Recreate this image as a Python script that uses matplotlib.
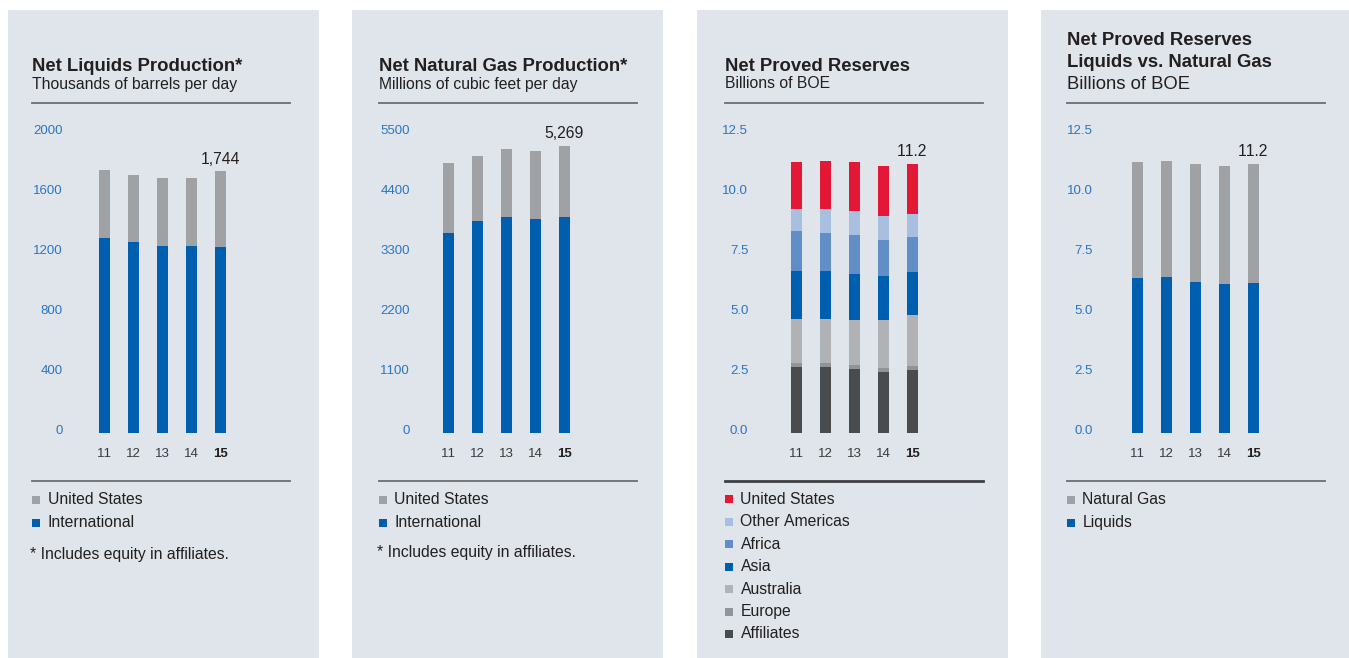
import matplotlib

matplotlib.use("Agg")
import matplotlib.pyplot as plt  # noqa: E402
import matplotlib.transforms as mtransforms  # noqa: E402
from matplotlib.patches import Rectangle  # noqa: E402

plt.rcParams["font.family"] = ["Liberation Sans", "DejaVu Sans"]
# the source ignores pair kerning ("11" is not squeezed together)
plt.rcParams["text.kerning_factor"] = 16

W, H = 1349, 658

years = ["11", "12", "13", "14", "15"]

# Net liquids production, thousands of barrels per day
liquids_us = [454, 446, 453, 453, 501]
liquids_intl = [1302, 1276, 1249, 1249, 1243]

# Net natural gas production, millions of cubic feet per day
gas_us = [1284, 1192, 1246, 1241, 1310]
gas_intl = [3667, 3881, 3955, 3924, 3959]

# Net proved reserves by region, billions of BOE (bottom to top)
res_affiliates = [2.74, 2.74, 2.65, 2.56, 2.64]
res_europe = [0.19, 0.19, 0.20, 0.16, 0.17]
res_australia = [1.83, 1.83, 1.87, 2.00, 2.12]
res_asia = [2.00, 2.00, 1.92, 1.84, 1.79]
res_africa = [1.67, 1.59, 1.62, 1.50, 1.46]
res_other_americas = [0.92, 1.00, 1.00, 1.00, 0.96]
res_us = [1.93, 2.00, 2.02, 2.08, 2.08]

# Net proved reserves, liquids vs. natural gas, billions of BOE
res_liquids = [6.47, 6.51, 6.31, 6.22, 6.26]
res_gas = [4.81, 4.84, 4.91, 4.92, 4.96]

liquids_ticks = [0, 400, 800, 1200, 1600, 2000]
gas_ticks = [0, 1100, 2200, 3300, 4400, 5500]
reserve_ticks = [0.0, 2.5, 5.0, 7.5, 10.0, 12.5]

BG = "#dfe5eb"
BLUE = "#005eae"
GREY = "#a0a1a4"
RED = "#e31837"
LIGHT_BLUE = "#a9bfdf"
MID_BLUE = "#628ec7"
AUS_GREY = "#b1b2b5"
EUR_GREY = "#929396"
DARK_GREY = "#4a4b4d"
TICK_BLUE = "#2a76c2"
TEXT = "#231f20"
RULE = "#6d6e71"

fig = plt.figure(figsize=(W / 100, H / 100), dpi=100)
fig.patch.set_facecolor("white")


def fx(x):
    return x / W


def fy(y):
    return 1 - y / H


def add_rect(x, y, w, h, color, zorder=1):
    # pixel box, origin top-left
    fig.add_artist(Rectangle((fx(x), fy(y + h)), w / W, h / H,
                             transform=fig.transFigure, color=color, lw=0,
                             zorder=zorder))


def add_rule(x, y, w, color=RULE, lw=1.3):
    fig.add_artist(plt.Line2D([fx(x), fx(x + w)], [fy(y), fy(y)],
                              transform=fig.transFigure, color=color, lw=lw))


def add_legend(x, y0, entries, step=22.5):
    for i, (label, color) in enumerate(entries):
        yc = y0 + i * step
        add_rect(x, yc - 4, 8, 8, color)
        fig.text(fx(x + 15.5), fy(yc), label, fontsize=11.3, color=TEXT,
                 va="center", ha="left")


panel_lefts = [8, 352, 697, 1041]
for left in panel_lefts:
    # behind the axes (which sit at zorder 0)
    add_rect(left, 10, 311, H - 10, BG, zorder=-5)

text_lefts = [32, 379, 725, 1067]
bar0 = [104.5, 448.3, 796.3, 1137.3]
label_pads = [19.7, 17.1, 24.1, 21.7]
AX_BOTTOM, AX_TOP = 433, 133
STEP = 29


def make_axes(i, ymax, ticks, fmt):
    left = bar0[i] - STEP / 2
    ax = fig.add_axes([fx(left), fy(AX_BOTTOM), 5 * STEP / W,
                       (AX_BOTTOM - AX_TOP) / H])
    ax.set_facecolor("none")
    for s in ax.spines.values():
        s.set_visible(False)
    ax.set_xlim(-0.5, 4.5)
    ax.set_ylim(0, ymax)
    ax.set_yticks(ticks)
    ax.set_yticklabels([fmt.format(t) for t in ticks])
    ax.set_xticks(range(len(years)))
    ax.set_xticklabels(years)
    ax.tick_params(axis="y", length=0, pad=label_pads[i], labelsize=9.5,
                   labelcolor=TICK_BLUE)
    ax.tick_params(axis="x", length=0, pad=10.5, labelsize=9.5,
                   labelcolor="#3a3a3c")
    ax.get_xticklabels()[-1].set_fontweight("bold")
    ax.get_xticklabels()[-1].set_color(TEXT)
    shift = mtransforms.ScaledTranslation(0, 3 / 100, fig.dpi_scale_trans)
    for lab in ax.get_yticklabels():
        lab.set_transform(lab.get_transform() + shift)
    return ax


def stack(ax, series):
    bottom = [0.0] * len(years)
    x = list(range(len(years)))
    for values, color in series:
        ax.bar(x, values, width=0.38, bottom=bottom, color=color, lw=0)
        bottom = [b + v for b, v in zip(bottom, values)]
    return bottom


def total_label(ax, x, y, text):
    ax.annotate(text, (x, y), xytext=(0, 5.4), textcoords="offset points",
                ha="center", va="baseline", fontsize=11.3, color=TEXT)


# Panel 1: liquids
ax1 = make_axes(0, 2000, liquids_ticks, "{:d}")
tops = stack(ax1, [(liquids_intl, BLUE), (liquids_us, GREY)])
total_label(ax1, 4, tops[-1], "1,744")

# Panel 2: natural gas
ax2 = make_axes(1, 5500, gas_ticks, "{:d}")
tops = stack(ax2, [(gas_intl, BLUE), (gas_us, GREY)])
total_label(ax2, 4, tops[-1], "5,269")

# Panel 3: reserves by region
ax3 = make_axes(2, 12.5, reserve_ticks, "{:.1f}")
tops = stack(ax3, [
    (res_affiliates, DARK_GREY),
    (res_europe, EUR_GREY),
    (res_australia, AUS_GREY),
    (res_asia, BLUE),
    (res_africa, MID_BLUE),
    (res_other_americas, LIGHT_BLUE),
    (res_us, RED),
])
total_label(ax3, 4, tops[-1], "11.2")

# Panel 4: liquids vs natural gas reserves
ax4 = make_axes(3, 12.5, reserve_ticks, "{:.1f}")
tops = stack(ax4, [(res_liquids, BLUE), (res_gas, GREY)])
total_label(ax4, 4, tops[-1], "11.2")

# Headers
fig.text(fx(text_lefts[0]), fy(70.7), "Net Liquids Production*",
         fontsize=13.3, fontweight="bold", color=TEXT, va="baseline")
fig.text(fx(text_lefts[0]), fy(88.5), "Thousands of barrels per day",
         fontsize=11.3, color=TEXT, va="baseline")
fig.text(fx(text_lefts[1]), fy(70.7), "Net Natural Gas Production*",
         fontsize=13.3, fontweight="bold", color=TEXT, va="baseline")
fig.text(fx(text_lefts[1]), fy(88.5), "Millions of cubic feet per day",
         fontsize=11.3, color=TEXT, va="baseline")
fig.text(fx(text_lefts[2]), fy(70.7), "Net Proved Reserves",
         fontsize=13.3, fontweight="bold", color=TEXT, va="baseline")
fig.text(fx(text_lefts[2]), fy(88.5), "Billions of BOE",
         fontsize=11.3, color=TEXT, va="baseline")
fig.text(fx(text_lefts[3]), fy(45.3), "Net Proved Reserves",
         fontsize=13.3, fontweight="bold", color=TEXT, va="baseline")
fig.text(fx(text_lefts[3]), fy(66.7), "Liquids vs. Natural Gas",
         fontsize=13.3, fontweight="bold", color=TEXT, va="baseline")
fig.text(fx(text_lefts[3]), fy(89.3), "Billions of BOE",
         fontsize=13.3, color=TEXT, va="baseline")

for i, left in enumerate(text_lefts):
    add_rule(left, 103.3, 258)
    if i == 2:
        add_rule(left, 481, 258, color="#3f4042", lw=2.0)
    else:
        add_rule(left, 481, 258)

# Legends
add_legend(text_lefts[0], 499.5, [("United States", GREY),
                                  ("International", BLUE)], step=23.2)
fig.text(fx(30), fy(554), "* Includes equity in affiliates.",
         fontsize=11.3, color=TEXT, va="center")
add_legend(text_lefts[1], 499.5, [("United States", GREY),
                                  ("International", BLUE)], step=23.2)
fig.text(fx(377), fy(553), "* Includes equity in affiliates.",
         fontsize=11.3, color=TEXT, va="center")
add_legend(text_lefts[2], 499.3, [
    ("United States", RED),
    ("Other Americas", LIGHT_BLUE),
    ("Africa", MID_BLUE),
    ("Asia", BLUE),
    ("Australia", AUS_GREY),
    ("Europe", EUR_GREY),
    ("Affiliates", DARK_GREY),
], step=22.45)
add_legend(text_lefts[3], 500, [("Natural Gas", GREY),
                                ("Liquids", BLUE)], step=23)

fig.savefig("out.png", dpi=100)
plt.close(fig)
